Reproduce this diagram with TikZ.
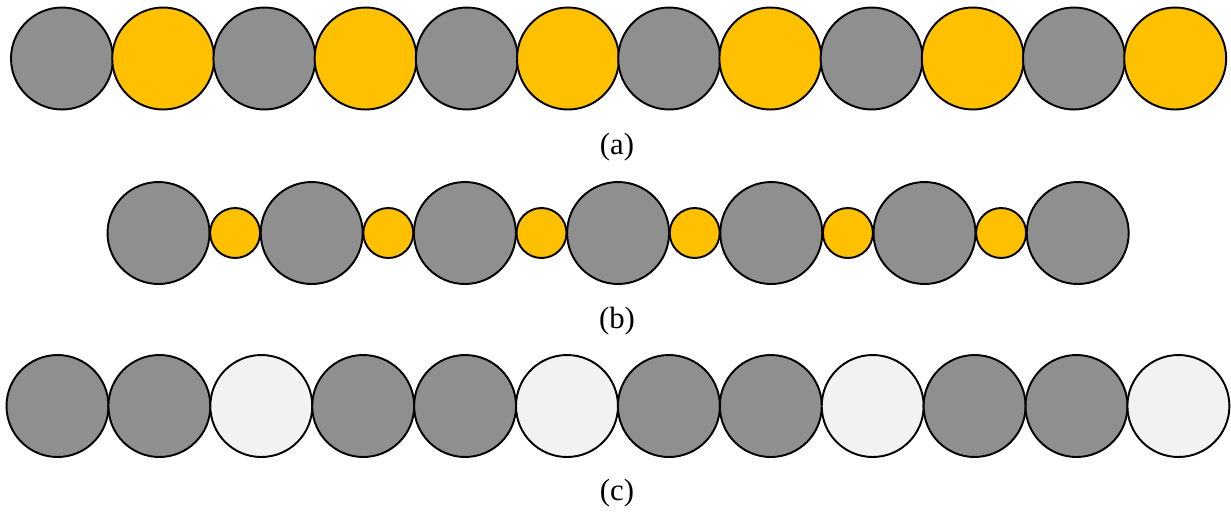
\documentclass[tikz,border=0pt]{standalone}
\usepackage{fontspec}
\setmainfont{Liberation Serif}
\usetikzlibrary{positioning}
\definecolor{ballgray}{HTML}{8F8F8F}
\definecolor{ballgold}{HTML}{FFC000}
\definecolor{ballpale}{HTML}{F2F2F2}
\tikzset{
 ball/.style={circle,draw=black,line width=1.1pt,inner sep=0pt,minimum size=2.04cm},
 bead/.style={ball,minimum size=1.0cm},
 caption/.style={font=\fontsize{17.5}{20}\selectfont}
}
\begin{document}
\begin{tikzpicture}[x=.02cm,y=-.02cm]
\useasboundingbox (0,0) rectangle (1231,512);
% (a) alternating
\foreach \i in {0,...,11}{
 \pgfmathtruncatemacro{\odd}{mod(\i,2)}
 \ifnum\odd=0 \def\fc{ballgray}\else \def\fc{ballgold}\fi
 \node[ball,fill=\fc] (a\i) at ({62+101.2*\i},58.5){};
}
\node[caption] (capa) at (617,147){(a)};
% (b) large and small
\foreach \i in {0,...,6}{
 \node[ball,fill=ballgray] (b\i) at ({158.5+153.2*\i},233){};
}
\foreach \i in {0,...,5}{
 \node[bead,fill=ballgold] (s\i) at ({235.1+153.2*\i},233){};
}
\node[caption] (capb) at (617,321){(b)};
% (c) two dark, one pale
\foreach \i in {0,...,11}{
 \pgfmathtruncatemacro{\third}{mod(\i,3)}
 \ifnum\third=2 \def\fc{ballpale}\else \def\fc{ballgray}\fi
 \node[ball,fill=\fc] (c\i) at ({57.5+101.9*\i},406){};
}
\node[caption] (capc) at (617,493){(c)};
\end{tikzpicture}
\end{document}
